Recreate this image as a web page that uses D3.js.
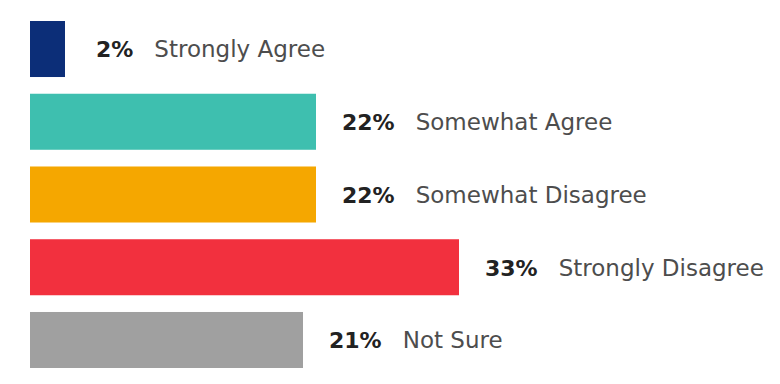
<!DOCTYPE html>
<html lang="en">
  <head>
    <meta charset="UTF-8">
    <title>Agree / Disagree</title>
    <script src="https://d3js.org/d3.v7.min.js"></script>
    <style>
      body { margin: 0; background-color: white; }
    </style>
  </head>
  <body>
    <script>
      const categories = ["Strongly Agree", "Somewhat Agree", "Somewhat Disagree", "Strongly Disagree", "Not Sure"];
      const values = [2, 22, 22, 33, 21];
      const colors = ["#0c2e78", "#3ebfaf", "#f5a700", "#f2303e", "#a0a0a0"];

      const w = 780;
      const h = 384;
      const minBar = 35; // tiny bars are drawn a bit wider in the original

      const svg = d3.select("body")
                    .append("svg")
                    .attr("width", w)
                    .attr("height", h);

      const xScale = d3.scaleLinear()
                       .domain([0, 35])
                       .range([30, 485]);

      const yScale = d3.scaleBand()
                       .domain(categories)
                       .range([21, 368])
                       .paddingInner(0.23)
                       .paddingOuter(0);

      const data = categories.map((c, i) => ({ cat: c, value: values[i], color: colors[i] }));
      const barEnd = (d) => Math.max(xScale(d.value), xScale(0) + minBar);

      svg.selectAll("rect")
         .data(data)
         .enter()
         .append("rect")
         .attr("x", xScale(0))
         .attr("y", (d) => yScale(d.cat))
         .attr("width", (d) => barEnd(d) - xScale(0))
         .attr("height", yScale.bandwidth())
         .style("fill", (d) => d.color);

      const labels = svg.selectAll("text.lbl")
         .data(data)
         .enter()
         .append("text")
         .attr("class", "lbl")
         .attr("x", (d) => barEnd(d) + (d.value < 5 ? 31 : 26))
         .attr("y", (d) => yScale(d.cat) + yScale.bandwidth() / 2)
         .attr("dy", "0.36em")
         .style("font-family", "'DejaVu Sans', sans-serif")
         .style("font-size", "23px");

      labels.append("tspan")
            .style("font-weight", "bold")
            .style("font-size", "22px")
            .style("fill", "#222")
            .text((d) => d.value + "%");

      labels.append("tspan")
            .attr("dx", 21)
            .style("fill", "#4d4d4d")
            .text((d) => d.cat);
    </script>
  </body>
</html>
